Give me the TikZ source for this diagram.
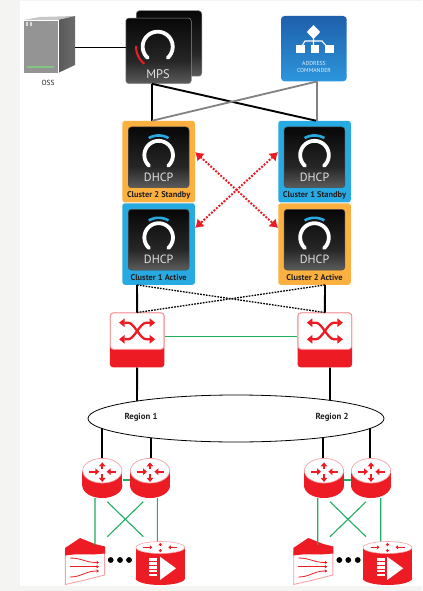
\documentclass[tikz,border=0pt]{standalone}
\usepackage{fontspec}
\setmainfont{PT Sans}
\usetikzlibrary{arrows.meta,shapes.geometric,calc}
\definecolor{nred}{HTML}{ED1C24}
\definecolor{npink}{HTML}{F7A3A6}
\definecolor{norange}{HTML}{FBB040}
\definecolor{nblue}{HTML}{27AAE1}
\definecolor{ngreen}{HTML}{1FAF60}
\definecolor{ngray}{HTML}{808285}
\definecolor{nbg}{HTML}{F4F4F2}
\definecolor{ntxt}{HTML}{231F20}
\definecolor{actop}{HTML}{1F5FAB}
\definecolor{acmid}{HTML}{2268B5}
\definecolor{acbot}{HTML}{2C96DC}
\pgfdeclareverticalshading{darkshade}{100bp}{rgb(0bp)=(0.36,0.36,0.36); rgb(25bp)=(0.36,0.36,0.36); rgb(42bp)=(0.15,0.15,0.15); rgb(75bp)=(0.03,0.03,0.03); rgb(100bp)=(0.03,0.03,0.03)}
\tikzset{
  x=1bp,y=-1bp,
  blackline/.style={line width=1.9bp,black},
  grayline/.style={line width=1.8bp,ngray},
  greenline/.style={line width=1.1bp,ngreen},
  dotline/.style={line width=1.3bp,black,dash pattern=on 1.7bp off 1.2bp},
  redlink/.style={line width=2bp,nred,dash pattern=on 1.9bp off 1.5bp,{Latex[length=8bp,width=11bp]}-{Latex[length=8bp,width=11bp]}},
  darkbox/.style={rounded corners=3bp,shade,shading=darkshade,inner sep=0,minimum width=#1,minimum height=#1},
  clusterbox/.style={rounded corners=2.5bp,fill=#1,inner sep=0,minimum width=72.5bp,minimum height=81.5bp},
  ringline/.style={line width=3.8bp,white,line cap=round},
  iconarrow/.style={line width=2.1bp,nred,-{Triangle[length=4bp,width=6.6bp]}},
  docarrow/.style={line width=.8bp,nred,-{Triangle[length=2.5bp,width=3.2bp]}},
  lbl/.style={inner sep=0,text=ntxt,font=\fontsize{8.4}{9}\selectfont\bfseries},
  hidden/.style={inner sep=0,minimum width=#1},
}
\newcommand{\ringat}[4]{% cx cy r style
  \draw[#4] plot[domain=-48:228,samples=40] ({#1+#3*cos(\x)},{#2-#3*sin(\x)});}
\newcommand{\dhcpnode}[5]{% name cx cy colour label
  \begin{scope}[shift={(#2,#3)}]
    \node[clusterbox=#4] (#1) at (0,0) {};
    \node[darkbox=60.7bp,draw=black!70,line width=.5bp] (#1-in) at (0,-4.3) {};
    \ringat{0}{-6.5}{14.3}{ringline}
    \draw[line width=2.6bp,nblue] plot[domain=60:120,samples=12] ({19.7*cos(\x)},{-6.5-19.7*sin(\x)});
    \node[inner sep=0,text=black!12,font=\fontsize{12}{12}\selectfont] (#1-t) at (0,15.7) {DHCP};
    \node[lbl] (#1-l) at (0,33.6) {#5};
  \end{scope}}
\newcommand{\switchnode}[2]{% name cx
  \begin{scope}[shift={(#2,340)}]
    \node[rounded corners=3bp,fill=nred,inner sep=0,minimum width=54.4bp,minimum height=54.6bp] (#1) at (0,0) {};
    \fill[white,draw=npink,line width=.8bp,rounded corners=3bp] (-26.7,-27) rectangle (26.7,9.3);
    \draw[line width=2.3bp,nred,{Triangle[length=5.5bp,width=8.5bp]}-{Triangle[length=5.5bp,width=8.5bp]}] (-18,-17.3) -- (-9,-17.3) .. controls (-3,-17.3) and (3,-0.7) .. (9,-0.7) -- (18,-0.7);
    \draw[line width=2.3bp,nred,{Triangle[length=5.5bp,width=8.5bp]}-{Triangle[length=5.5bp,width=8.5bp]}] (-18,-0.7) -- (-9,-0.7) .. controls (-3,-0.7) and (3,-17.3) .. (9,-17.3) -- (18,-17.3);
  \end{scope}}
\newcommand{\routernode}[2]{% name cx
  \begin{scope}[shift={(#2,478)}]
    \node[hidden=40bp,minimum height=40bp] (#1) at (0,0) {};
    \fill[nred] (-20,-7.3) rectangle (20,7.5);
    \fill[nred] (0,7.5) ellipse (20 and 12.5);
    \draw[fill=white,draw=npink,line width=.7bp] (0,-7.3) ellipse (19.6 and 12.3);
    \draw[iconarrow] (0,-8.7) -- (0,-15.6);
    \draw[iconarrow] (0,-3.7) -- (0,3.9);
    \draw[iconarrow] (-13.2,-6.3) -- (-3,-6.3);
    \draw[iconarrow] (13.6,-6.3) -- (4.4,-6.3);
  \end{scope}}
\newcommand{\docnode}[3]{% name cx shift
  \begin{scope}[shift={(#2,561.5)}]
    \node[hidden=40bp,minimum height=47bp] (#1) at (0,0) {};
    \fill[white,draw=npink,line width=.9bp] (-19.6,-10) -- (19.6,-10) -- (19.6,13.5) -- (0,18.5) -- (-19.6,23) -- cycle;
    \fill[nred] (-20,-13.5) -- (-5,-23.5) -- (10,-17.5) -- (20,-15) -- (20,-8) -- (8,-7) .. controls (0,-7) and (-6,-8) .. (-20,-6) -- cycle;
    \draw[docarrow] (-15,-3.5) .. controls (-3,-3.5) and (0,1) .. (14,1);
    \draw[docarrow] (-15,5.2) -- (14,5.2);
    \draw[docarrow] (-15,15.5) .. controls (-3,15.5) and (0,9.5) .. (14,9.5);
  \end{scope}}
\newcommand{\vidnode}[2]{% name cx
  \begin{scope}[shift={(#2,563.3)}]
    \node[hidden=49.3bp,minimum height=43.4bp] (#1) at (0,0) {};
    \fill[nred] (-24.7,-16) rectangle (24.7,15);
    \fill[nred] (0,15) ellipse (24.7 and 6.7);
    \draw[fill=white,draw=npink,line width=.6bp] (0,-15.8) ellipse (24.4 and 6);
    \draw[line width=1.1bp,nred,-{Triangle[length=2.5bp,width=3.8bp]}] (-17,-16) -- (-8,-16);
    \draw[line width=1.1bp,nred,-{Triangle[length=2.5bp,width=3.8bp]}] (17,-16) -- (8,-16);
    \draw[line width=1.1bp,nred,-{Triangle[length=2.5bp,width=3.8bp]}] (0,-14) -- (0,-11);
    \draw[line width=1.1bp,nred,-{Triangle[length=2.5bp,width=3.8bp]}] (0,-17) -- (0,-20.5);
    \foreach \yy in {-5.3,-1.4,2.5,6.4,10.3}{\fill[white] (-11,\yy) rectangle (-3,\yy+2.7);}
    \fill[white] (-0.3,-6.6) -- (15.7,5) -- (-0.3,16.7) -- cycle;
  \end{scope}}
\newcommand{\dotsrow}[3]{%
  \fill[black] (#1,560) circle (2.9); \fill[black] (#2,560) circle (2.9); \fill[black] (#3,560) circle (2.9);}
\begin{document}
\begin{tikzpicture}
\useasboundingbox (0,0) rectangle (422,591);
\fill[nbg] (0,0) rectangle (422,591);
\fill[white] (19.5,1) rectangle (422,585.5);

% OSS server
\fill[black!22] (23.5,20) -- (40,17) -- (75,16) -- (58,20) -- cycle;
\fill[black!42] (23.5,20) rectangle (58,73);
\shade[left color=black!65,right color=black!58] (58,20) -- (75,16) -- (75,65) -- (58,73) -- cycle;
\draw[white,line width=.4bp] (23.5,20) -- (58,20) -- (58,73);
\fill[white!85!black] (26,22) rectangle (28.2,26);
\fill[white!85!black] (29.5,22) rectangle (31.7,26);
\draw[line width=1.8bp,green!55!black!50!white] (27,67) -- (54,67);
\node[hidden=1bp,minimum height=57bp] (oss) at (75,47.5) {};
\node[inner sep=0,text=ntxt,font=\fontsize{7.4}{8}\selectfont] (osst) at (48,83) {OSS};

% MPS
\node[darkbox=65.5bp,draw=black!45,line width=.5bp] (mpsb) at (169,43.5) {};
\node[darkbox=65.5bp,draw=black!45,line width=.5bp] (mps) at (158.5,50.8) {};
\ringat{157.7}{46.7}{15}{ringline}
\draw[line width=2bp,nred] plot[domain=178:232,samples=14] ({157.7+21.7*cos(\x)},{46.7-21.7*sin(\x)});
\node[inner sep=0,text=black!12,font=\fontsize{12.5}{12}\selectfont] (mpst) at (158,74.3) {MPS};

% Address Commander
\node[rounded corners=3.5bp,top color=actop,middle color=acmid,bottom color=acbot,inner sep=0,minimum width=65.7bp,minimum height=65.3bp] (ac) at (313.85,48.65) {};
\draw[white,line width=1.1bp] (313.5,32) -- (313.5,48) (300,49) -- (305,41) -- (322,41) -- (329,49);
\fill[white] (313.5,25) -- (320.2,32) -- (313.5,39) -- (306.8,32) -- cycle;
\fill[white] (295.5,45) rectangle (304.5,53);
\fill[white] (310.5,45) rectangle (318.5,53);
\fill[white] (325,45) rectangle (333.5,53);
\node[inner sep=0,align=center,text=white!85!nblue,font=\fontsize{5.8}{7.4}\selectfont] (act) at (314,67) {ADDRESS\\COMMANDER};

% DHCP clusters
\dhcpnode{c2s}{158.65}{161.65}{norange}{Cluster 2 Standby}
\dhcpnode{c1a}{158.65}{244}{nblue}{Cluster 1 Active}
\dhcpnode{c1s}{314.5}{161.65}{nblue}{Cluster 1 Standby}
\dhcpnode{c2a}{314.5}{244}{norange}{Cluster 2 Active}

% Switches
\switchnode{swl}{137.15}
\switchnode{swr}{324.85}

% Region
\node[draw=black,line width=.8bp,ellipse,inner sep=0,minimum width=296bp,minimum height=47bp] (reg) at (236,418.5) {};
\node[lbl,font=\fontsize{8.8}{9}\selectfont\bfseries] (r1t) at (141,417.5) {Region 1};
\node[lbl,font=\fontsize{8.8}{9}\selectfont\bfseries] (r2t) at (332,417.5) {Region 2};
\coordinate (rt1) at (137,401);
\coordinate (rt2) at (330,400.4);
\coordinate (rb1) at (101.7,428.4);
\coordinate (rb2) at (150.7,437.7);
\coordinate (rb3) at (323.3,437.5);
\coordinate (rb4) at (370,428.4);

% Routers and edge devices
\routernode{ra}{102.3}
\routernode{rb}{150}
\routernode{rc}{324}
\routernode{rd}{371}
\docnode{da}{85}{0}
\docnode{db}{313.3}{0}
\vidnode{va}{160.3}
\vidnode{vb}{387.5}
\dotsrow{110.7}{120}{129}
\dotsrow{339.3}{348.3}{357.7}

% Connectors
\draw[blackline] (oss.center) -- (mps.west |- oss.center);
\draw[blackline] ([xshift=-6.5bp]mps.south) -- ([xshift=-6.5bp]mps.south |- c2s.north);
\draw[blackline] ([xshift=-6.5bp]mps.south) -- ([xshift=1.5bp]c1s.north);
\draw[grayline] ([xshift=3bp]ac.south) -- ([xshift=3bp]ac.south |- c1s.north);
\draw[grayline] ([xshift=3bp]ac.south) -- ([xshift=-6.5bp]c2s.north);
\draw[redlink] ([yshift=9.6bp]c2s.east) -- ([yshift=16bp]c2a.west);
\draw[redlink] ([yshift=9.6bp]c1s.west) -- ([yshift=16bp]c1a.east);
\draw[blackline] ([xshift=-21.65bp]c1a.south) -- (swl.north);
\draw[blackline] ([xshift=10.5bp]c2a.south) -- (swr.north);
\draw[dotline] ([xshift=-21.65bp]c1a.south) -- (swr.north);
\draw[dotline] ([xshift=10.5bp]c2a.south) -- (swl.north);
\draw[greenline] ([yshift=3.3bp]swl.east) -- ([yshift=3.3bp]swr.west);
\draw[blackline] (swl.south) -- (rt1);
\draw[blackline] ([xshift=5.15bp]swr.south) -- (rt2);
\draw[blackline] (rb1) -- (rb1 |- ra.north);
\draw[blackline] (rb2) -- (rb2 |- rb.north);
\draw[blackline] (rb3) -- (rb3 |- rc.north);
\draw[blackline] (rb4) -- (rb4 |- rd.north);
\draw[greenline] ([yshift=-2bp]ra.east) -- ([yshift=-2bp]rb.west);
\draw[greenline] ([yshift=-2bp]rc.east) -- ([yshift=-2bp]rd.west);
\draw[greenline] ([xshift=-7.3bp]ra.south) -- ([xshift=10bp,yshift=-7bp]da.north);
\draw[greenline] ([xshift=7.3bp]rb.south) -- ([xshift=-3bp]va.north);
\draw[greenline] ([xshift=-6.3bp]rc.south) -- ([xshift=4.4bp,yshift=-7bp]db.north);
\draw[greenline] ([xshift=9.7bp]rd.south) -- ([xshift=-6.8bp]vb.north);
\coordinate (xa1) at (107.3,501.7); \coordinate (xa2) at (143.3,536.7);
\coordinate (xa3) at (143.3,501.7); \coordinate (xa4) at (107.3,536.7);
\coordinate (xb1) at (330,501.7); \coordinate (xb2) at (366,536.7);
\coordinate (xb3) at (366,501.7); \coordinate (xb4) at (330,536.7);
\draw[greenline] (xa1) -- (xa2);
\draw[greenline] (xa3) -- (xa4);
\draw[greenline] (xb1) -- (xb2);
\draw[greenline] (xb3) -- (xb4);
\end{tikzpicture}
\end{document}
